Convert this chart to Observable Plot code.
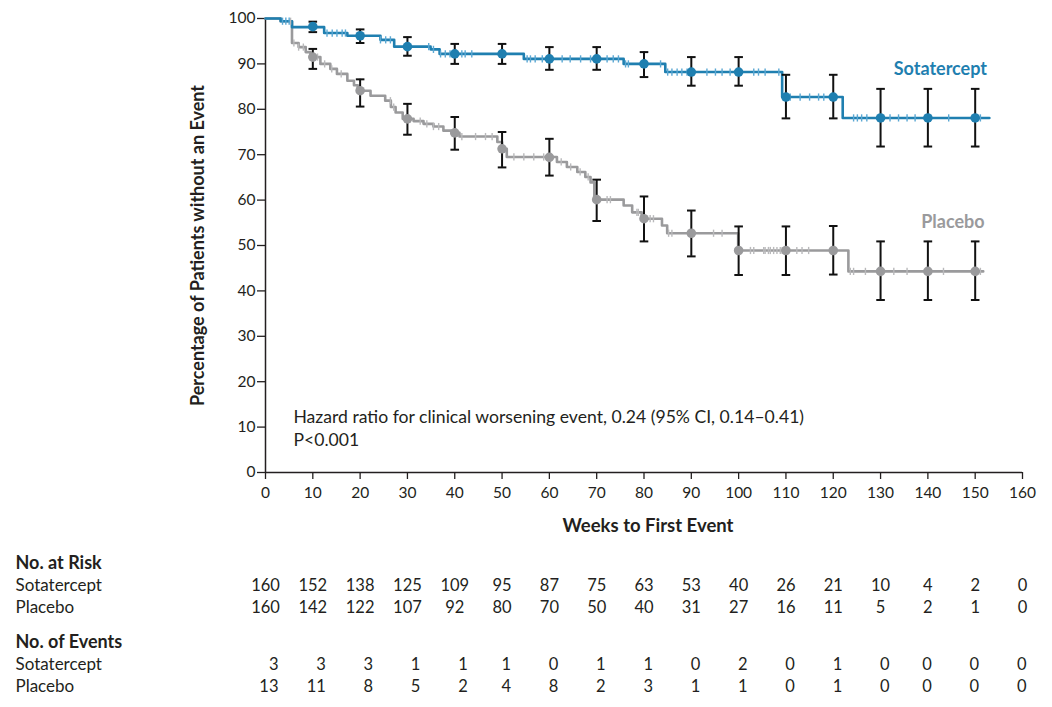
<!DOCTYPE html>
<html><head><meta charset="utf-8">
<script src="https://cdn.jsdelivr.net/npm/d3@7"></script>
<script src="https://cdn.jsdelivr.net/npm/@observablehq/plot@0.6"></script>
<style>
body{margin:0;background:#fff;font-family:Lato,sans-serif;}
#chart svg{display:block;}
</style></head><body><div id="chart"></div>
<script>
// ---- Data ----
const xTicks = [0,10,20,30,40,50,60,70,80,90,100,110,120,130,140,150,160];
const yTicks = [0,10,20,30,40,50,60,70,80,90,100];

// Kaplan-Meier step points (week, % without event)
const sotaWeeks = [0,3.2,5.6,12.4,17.3,24.3,27.2,34.9,36.8,54.6,75.7,84.5,109.2,122,153];
const sotaSurv  = [100,99.4,98.1,96.8,96.2,95.3,93.8,93.2,92.2,91.1,90.0,88.2,82.7,78.1,78.1];
const placWeeks = [0,3.2,5.6,7,8.5,9.5,11.6,13.7,15.1,17.3,18.7,19.5,22.2,25.3,26.5,27.5,29,31.3,33.4,35.5,37.6,39.5,41,49,50,51,61.6,63.7,65.9,67.6,68.7,69.5,75.7,77.5,79.5,83.8,84.9,99.9,123.2,151.7];
const placSurv  = [100,99.4,94.6,93.7,92.6,91.5,90.0,88.9,87.8,86.3,85.3,84.1,83.0,81.9,80.5,79.3,77.9,77.4,76.8,76.2,75.3,74.8,74.0,72.8,71.3,69.5,68.4,67.3,66.2,65.1,63.9,60.1,58.8,57.3,55.9,54.4,52.7,48.9,44.3,44.3];

// Censoring times (weeks)
const sotaCensor = [3.6,4.3,5.0,13.0,14.1,15.1,16.2,16.9,24.3,25.4,26.4,34.5,35.5,37.0,38.0,39.0,41.5,42.2,43.6,55.3,56.0,57.0,58.5,59.5,62.7,64.4,66.6,68.7,72.2,73.5,74.6,76.1,76.7,83.5,85.0,85.9,87.0,88.0,89.1,93.3,95.1,96.5,98.2,103.2,104.2,105.6,108.5,109.5,110.9,113.0,115.0,116.9,118.0,124.3,125.1,126.0,127.1,130.3,132.0,133.8,135.6,137.3,144.4,151.1];
const placCensor = [5.3,6.0,7.0,8.0,11.0,12.5,14.0,16.0,26.4,27.1,32.7,34.1,35.5,36.6,41.5,44.4,46.5,47.9,52.5,54.6,56.7,58.8,62.5,64.5,66.5,68.2,72.2,72.9,78.5,78.8,81.3,82.0,85.2,85.9,94.7,96.5,102.5,103.2,105.3,105.6,106.3,106.7,107.4,108.1,108.8,109.2,112.3,113.4,114.8,123.6,124.3,126.8,129.6,132.8,135.6,143.3,151.1];

// Estimates with 95% CI at 10-week marks
const ciWeeks = [10,20,30,40,50,60,70,80,90,100,110,120,130,140,150];
const sotaEst = [98.2,96.2,93.8,92.2,92.2,91.1,91.1,90.0,88.2,88.2,82.7,82.7,78.1,78.1,78.1];
const sotaHi  = [99.3,97.6,95.9,94.4,94.4,93.7,93.7,92.6,91.5,91.5,87.6,87.6,84.5,84.5,84.5];
const sotaLo  = [97.0,94.6,91.8,90.0,90.0,88.7,88.7,87.1,85.2,85.2,78.0,78.0,71.8,71.8,71.8];
const placEst = [91.5,84.1,77.9,74.8,71.3,69.4,60.1,55.9,52.7,48.9,48.9,48.9,44.3,44.3,44.3];
const placHi  = [93.3,86.6,81.2,78.3,75.0,73.5,64.5,60.8,57.7,54.2,54.2,54.3,50.9,50.9,50.9];
const placLo  = [88.9,80.6,74.4,71.1,67.2,65.4,55.4,50.9,47.6,43.5,43.5,43.6,38.0,38.0,38.0];

// Risk table
const riskSota   = [160,152,138,125,109,95,87,75,63,53,40,26,21,10,4,2,0];
const riskPlac   = [160,142,122,107,92,80,70,50,40,31,27,16,11,5,2,1,0];
const eventsSota = [3,3,3,1,1,1,0,1,1,0,2,0,1,0,0,0,0];
const eventsPlac = [13,11,8,5,2,4,8,2,3,1,1,0,1,0,0,0,0];

const seriesNames = ["Sotatercept","Placebo"];
const hazardText = "Hazard ratio for clinical worsening event, 0.24 (95% CI, 0.14\u20130.41)\nP<0.001";

// ---- Styles ----
const BLUE = "#1f7fb0", BLUE_C = "#5aa7d3";
const GRAY = "#9a9a9c", GRAY_C = "#b9b9bb";
const INK = "#231f20";
const FONT = "Lato, sans-serif";
const W = 1052, ML = 265, MR = 30;

// ---- Derived tables ----
const km = (ws, ss) => ws.map((w,i) => ({w, s: ss[i]}));
const survAt = (ws, ss, t) => ss[Math.max(0, d3.bisectRight(ws, t) - 1)];
const sotaKM = km(sotaWeeks, sotaSurv), placKM = km(placWeeks, placSurv);
const sotaC = sotaCensor.map(w => ({w, s: survAt(sotaWeeks, sotaSurv, w)}));
const placC = placCensor.map(w => ({w, s: survAt(placWeeks, placSurv, w)}));
const sotaPts = ciWeeks.map((w,i) => ({w, s: sotaEst[i], lo: sotaLo[i], hi: sotaHi[i]}));
const placPts = ciWeeks.map((w,i) => ({w, s: placEst[i], lo: placLo[i], hi: placHi[i]}));

const vbar = {draw(ctx, size){const h = Math.sqrt(size/Math.PI); ctx.moveTo(0,-h); ctx.lineTo(0,h);}};
const hbar = {draw(ctx, size){const h = Math.sqrt(size/Math.PI); ctx.moveTo(-h,0); ctx.lineTo(h,0);}};

const ciMarks = (pts, col) => [
  Plot.ruleX(pts, {x:"w", y1:"lo", y2:"hi", stroke:"#111", strokeWidth:2}),
  Plot.dot(pts, {x:"w", y:"lo", symbol:hbar, r:4.3, stroke:"#111", strokeWidth:2, fill:"none"}),
  Plot.dot(pts, {x:"w", y:"hi", symbol:hbar, r:4.3, stroke:"#111", strokeWidth:2, fill:"none"}),
  Plot.dot(pts, {x:"w", y:"s", r:4.8, fill:col, stroke:null})
];

const main = Plot.plot({
  width: W, height: 545,
  marginLeft: ML, marginRight: MR, marginTop: 18, marginBottom: 73,
  style: {fontFamily: FONT, fontSize: "15px", color: INK, background: "white"},
  x: {domain: [0,160]},
  y: {domain: [0,100]},
  marks: [
    Plot.axisX({ticks: xTicks, tickSize: 7, tickPadding: 7, tickFormat: d => d, label: null, fontSize: 15.5, stroke: INK, strokeWidth: 1.3}),
    Plot.axisY({ticks: yTicks, tickSize: 8, tickPadding: 2, tickFormat: d => d, label: null, fontSize: 15.5, stroke: INK, strokeWidth: 1.3}),
    Plot.ruleX([0], {stroke: INK, strokeWidth: 1.5}),
    Plot.ruleY([0], {stroke: INK, strokeWidth: 1.5}),
    Plot.line(placKM, {x:"w", y:"s", curve:"step-after", stroke: GRAY, strokeWidth: 2.6}),
    Plot.line(sotaKM, {x:"w", y:"s", curve:"step-after", stroke: BLUE, strokeWidth: 2.6}),
    Plot.dot(placC, {x:"w", y:"s", symbol: vbar, r: 3.6, stroke: GRAY_C, strokeWidth: 1.4, fill: "none"}),
    Plot.dot(sotaC, {x:"w", y:"s", symbol: vbar, r: 3.6, stroke: BLUE_C, strokeWidth: 1.4, fill: "none"}),
    ...ciMarks(placPts, GRAY),
    ...ciMarks(sotaPts, BLUE),
    Plot.text([seriesNames[0]], {x: 152.5, y: 88.8, textAnchor: "end", fill: BLUE, fontWeight: "bold", fontSize: 18}),
    Plot.text([seriesNames[1]], {x: 152.0, y: 55.2, textAnchor: "end", fill: GRAY, fontWeight: "bold", fontSize: 18}),
    Plot.text([hazardText], {x: 5.9, y: 9.9, textAnchor: "start", lineAnchor: "middle", lineHeight: 1.3, fill: INK, fontSize: 17.6}),
    Plot.text(["Percentage of Patients without an Event"], {frameAnchor: "left", textAnchor: "middle", rotate: -90, dx: -67, fontWeight: "bold", fontSize: 18, fill: INK}),
    Plot.text(["Weeks to First Event"], {frameAnchor: "bottom", textAnchor: "middle", dx: 4, dy: 59, fontWeight: "bold", fontSize: 18.5, fill: INK})
  ]
});

function table(title, aVals, bVals, isEvents, height, mb) {
  const rows = xTicks.map((w,i) => ({w, a: aVals[i], b: bVals[i], n: String(riskSota[i]).length}));
  const labels = [{k:"S", t:seriesNames[0]}, {k:"P", t:seriesNames[1]}];
  const numMarks = [];
  if (!isEvents) {
    numMarks.push(Plot.text(rows, {x:"w", y: () => "S", text:"a", fill: INK}));
    numMarks.push(Plot.text(rows, {x:"w", y: () => "P", text:"b", fill: INK}));
  } else {
    for (const [n, dx] of [[3,13],[2,9],[1,4]]) {
      const sub = rows.filter(r => r.n === n);
      numMarks.push(Plot.text(sub, {x:"w", y: () => "S", text:"a", textAnchor:"end", dx, fill: INK}));
      numMarks.push(Plot.text(sub, {x:"w", y: () => "P", text:"b", textAnchor:"end", dx, fill: INK}));
    }
  }
  return Plot.plot({
    width: W, height, marginLeft: ML, marginRight: MR, marginTop: 18, marginBottom: mb,
    style: {fontFamily: FONT, fontSize: "16.5px", color: INK, background: "white"},
    x: {domain: [0,160], axis: null},
    y: {type: "point", domain: ["head","S","P"], padding: 0, axis: null},
    marks: [
      Plot.text([{k:"head", t:title}], {y:"k", text:"t", frameAnchor:"left", dx: 15 - ML, textAnchor:"start", fill: INK, fontWeight: "bold", fontSize: 18}),
      Plot.text(labels, {y:"k", text:"t", frameAnchor:"left", dx: 15 - ML, textAnchor:"start", fill: INK, fontSize: 17}),
      ...numMarks
    ]
  });
}

const chart = document.getElementById("chart");
chart.append(main);
chart.append(table("No. at Risk", riskSota, riskPlac, false, 78, 16));
chart.append(table("No. of Events", eventsSota, eventsPlac, true, 84, 21));
</script></body></html>
